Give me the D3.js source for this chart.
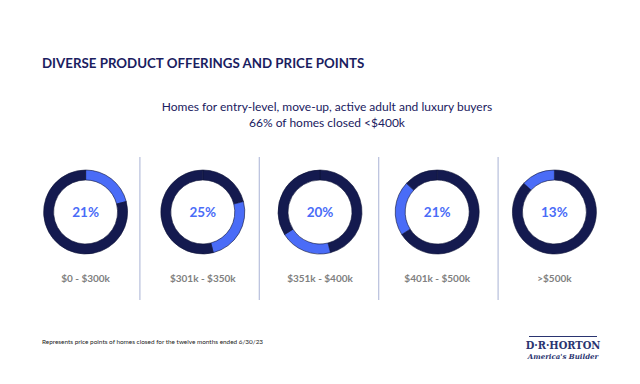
<!DOCTYPE html>
<html>
<head>
<meta charset="utf-8">
<script src="https://cdn.jsdelivr.net/npm/d3@7"></script>
<style>
  body { margin: 0; background: #fff; }
  svg { display: block; font-family: Lato, "Open Sans", sans-serif; }
</style>
</head>
<body>
<div id="vis-holder"></div>
<script>
// price bands and share of homes closed
let CATEGORIES = ["$0 - $300k", "$301k - $350k", "$351k - $400k", "$401k - $500k", ">$500k"]
let SHARES = [21, 25, 20, 21, 13]
let PCT_LABELS = ["21%", "25%", "20%", "21%", "13%"]

let TITLE = "DIVERSE PRODUCT OFFERINGS AND PRICE POINTS"
let SUBTITLE = ["Homes for entry-level, move-up, active adult and luxury buyers", "66% of homes closed <$400k"]
let FOOTNOTE = "Represents price points of homes closed for the twelve months ended 6/30/23"

var width = 640, height = 384;
var navy = "#141a4f", blue = "#4a6cf7";

var svg = d3.select("#vis-holder")
  .append("svg")
    .attr("width", width)
    .attr("height", height);

// title
svg.append("text")
  .attr("x", 42).attr("y", 68)
  .style("font-size", "13.3px").style("font-weight", "bold")
  .attr("fill", "#1a2060")
  .text(TITLE);

// subtitle
svg.selectAll(".sub")
  .data(SUBTITLE)
  .enter()
  .append("text")
    .attr("x", 327)
    .attr("y", (d, i) => 111 + i * 15.5)
    .attr("text-anchor", "middle")
    .style("font-size", "12px")
    .attr("fill", "#1a2060")
    .text(d => d);

// donut positions
var x = d3.scaleBand()
  .domain(CATEGORIES)
  .range([27, 613]);

// column separators
var xSep = d3.scaleBand()
  .domain(CATEGORIES)
  .range([20.5, 617.5]);

svg.append("g")
  .selectAll("line")
  .data(CATEGORIES.slice(1))
  .enter()
  .append("line")
    .attr("x1", d => xSep(d)).attr("x2", d => xSep(d))
    .attr("y1", 157).attr("y2", 300)
    .attr("stroke", "#b7bfdc")
    .attr("stroke-width", 1.2);

var cy = 212;
var arc = d3.arc().innerRadius(32).outerRadius(42);
var pie = d3.pie().sort(null).value(d => d.v);

var cum = 0;
CATEGORIES.forEach((cat, i) => {
  var parts = [
    {v: cum, c: navy},
    {v: SHARES[i], c: blue},
    {v: Math.max(0, 100 - cum - SHARES[i]), c: navy}
  ];
  cum += SHARES[i];

  var g = svg.append("g")
    .attr("transform", "translate(" + (x(cat) + x.bandwidth() / 2) + "," + cy + ")");

  g.selectAll("path")
    .data(pie(parts))
    .enter()
    .append("path")
      .attr("d", arc)
      .attr("fill", d => d.data.c)
      .attr("stroke", d => d.data.v > 0 ? "#0c1036" : "none")
      .attr("stroke-width", 0.6);

  g.append("text")
    .attr("y", 5)
    .attr("text-anchor", "middle")
    .style("font-size", "13.5px").style("font-weight", "bold")
    .attr("fill", blue)
    .text(PCT_LABELS[i]);

  g.append("text")
    .attr("y", 69.5)
    .attr("text-anchor", "middle")
    .style("font-size", "10px").style("font-weight", "bold")
    .attr("fill", "#808080")
    .text(cat);
});

// footnote
svg.append("text")
  .attr("x", 42).attr("y", 344)
  .style("font-size", "6.4px")
  .attr("fill", "#222")
  .text(FOOTNOTE);

// logo
var logo = svg.append("g").attr("transform", "translate(563,0)");
logo.append("line")
  .attr("x1", -34).attr("x2", 34)
  .attr("y1", 336.5).attr("y2", 336.5)
  .attr("stroke", "#2a3470").attr("stroke-width", 1);
logo.append("text")
  .attr("y", 348.5)
  .attr("text-anchor", "middle")
  .style("font-family", "'DejaVu Serif Condensed', 'DejaVu Serif', serif")
  .style("font-size", "11px").style("font-weight", "bold")
  .attr("fill", "#2a3470")
  .text("D·R·HORTON");
logo.append("text")
  .attr("y", 358.5)
  .attr("text-anchor", "middle")
  .style("font-family", "'DejaVu Serif', serif")
  .style("font-size", "7px").style("font-style", "italic").style("font-weight", "bold")
  .attr("fill", "#2a3470")
  .text("America's Builder");
</script>
</body>
</html>
